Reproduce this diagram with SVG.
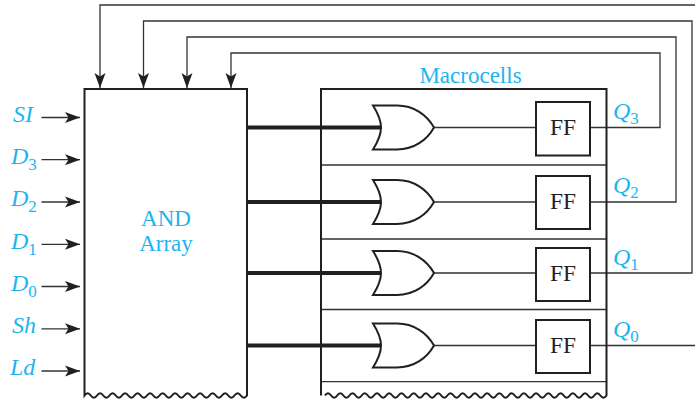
<svg xmlns="http://www.w3.org/2000/svg" width="695" height="400" viewBox="0 0 695 400">
<style>
.w{fill:none;stroke:#333;stroke-width:1.3}
.b{fill:none;stroke:#231f20;stroke-width:2}
.t{fill:none;stroke:#231f20;stroke-width:3.800}
.g{fill:#fff;stroke:#231f20;stroke-width:2;stroke-linejoin:miter}
.c{font-family:"Liberation Serif",serif;fill:#1cb5f0}
.l{font-size:24px;font-style:italic}
.s{font-size:17px;font-style:normal}
.h{font-size:23px;text-anchor:middle}
.k{font-family:"Liberation Serif",serif;fill:#231f20;font-size:23.500px;text-anchor:middle}
</style>
<defs>
<marker id="a" markerUnits="userSpaceOnUse" markerWidth="16" markerHeight="12" refX="15" refY="6" orient="auto"><path d="M0 0.500L15 6L0 11.500L3.500 6Z" fill="#231f20"/></marker>
<path id="or" d="M373 105.500H397C414 105.500 427 115 434 127.500C427 140 414 149.500 397 149.500H373C379 140 381 133 381 127.500C381 122 379 115 373 105.500Z" class="g"/>
</defs>
<g id="connectors">
<path class="w" d="M695 5H100V88" marker-end="url(#a)"/>
<path class="w" d="M590 273H692V21H143.500V88" marker-end="url(#a)"/>
<path class="w" d="M590 202H676V37H187V88" marker-end="url(#a)"/>
<path class="w" d="M590 127.500H660V53H231V88" marker-end="url(#a)"/>
<path class="w" d="M590 345.500H695"/>
<path class="w" d="M41.500 117.500H80" marker-end="url(#a)"/>
<path class="w" d="M41.500 159.700H80" marker-end="url(#a)"/>
<path class="w" d="M41.500 202H80" marker-end="url(#a)"/>
<path class="w" d="M41.500 244.300H80" marker-end="url(#a)"/>
<path class="w" d="M41.500 286.500H80" marker-end="url(#a)"/>
<path class="w" d="M41.500 328.800H80" marker-end="url(#a)"/>
<path class="w" d="M41.500 371H80" marker-end="url(#a)"/>
<path class="t" d="M247 127.500H381M247 202H381M247 273H381M247 345.500H381"/>
<path class="w" d="M434 127.500H536M434 202H536M434 273H536M434 345.500H536"/>
<path class="w" d="M321 165H606M321 239H606M321 309.500H606M321 381.700H606"/>
</g>
<g id="and-array">
<path class="b" d="M84.500 89H247V395.500q-3.100 4.500 -6.250 0t-6.250 0t-6.250 0t-6.250 0t-6.250 0t-6.250 0t-6.250 0t-6.250 0t-6.250 0t-6.250 0t-6.250 0t-6.250 0t-6.250 0t-6.250 0t-6.250 0t-6.250 0t-6.250 0t-6.250 0t-6.250 0t-6.250 0t-6.250 0t-6.250 0t-6.250 0t-6.250 0t-6.250 0t-6.250 0Z"/>
<text class="c h" x="166" y="226">AND</text>
<text class="c h" x="166" y="251">Array</text>
</g>
<g id="macrocells">
<path class="b" d="M321 395.500V89H606.500V395.500q-3 4.500 -6.120 0t-6.120 0t-6.120 0t-6.120 0t-6.120 0t-6.120 0t-6.120 0t-6.120 0t-6.120 0t-6.120 0t-6.120 0t-6.120 0t-6.120 0t-6.120 0t-6.120 0t-6.120 0t-6.120 0t-6.120 0t-6.120 0t-6.120 0t-6.120 0t-6.120 0t-6.120 0t-6.120 0t-6.120 0t-6.120 0t-6.120 0t-6.120 0t-6.120 0t-6.120 0t-6.120 0t-6.120 0t-6.120 0t-6.120 0t-6.120 0t-6.120 0t-6.120 0t-6.120 0t-6.120 0t-6.120 0t-6.120 0t-6.120 0t-6.120 0t-6.120 0t-6.120 0t-6.120 0"/>
<text class="c h" x="470.500" y="83">Macrocells</text>
</g>
<g id="or3"><use href="#or"/></g>
<g id="or2"><use href="#or" y="74.500"/></g>
<g id="or1"><use href="#or" y="145.500"/></g>
<g id="or0"><use href="#or" y="218"/></g>
<g id="ff3"><rect class="g" x="536" y="102" width="54" height="53.500"/><text class="k" x="563" y="135">FF</text></g>
<g id="ff2"><rect class="g" x="536" y="176" width="54" height="53"/><text class="k" x="563" y="209">FF</text></g>
<g id="ff1"><rect class="g" x="536" y="248" width="54" height="53"/><text class="k" x="563" y="281">FF</text></g>
<g id="ff0"><rect class="g" x="536" y="320" width="54" height="53"/><text class="k" x="563" y="353">FF</text></g>
<g id="inputs">
<text class="c l" x="13" y="122">SI</text>
<text class="c l" x="11" y="164">D<tspan class="s" dy="6">3</tspan></text>
<text class="c l" x="11" y="206">D<tspan class="s" dy="6">2</tspan></text>
<text class="c l" x="11" y="249">D<tspan class="s" dy="6">1</tspan></text>
<text class="c l" x="11" y="291">D<tspan class="s" dy="6">0</tspan></text>
<text class="c l" x="12" y="333">Sh</text>
<text class="c l" x="10" y="375">Ld</text>
</g>
<g id="outputs">
<text class="c l" x="613" y="119">Q<tspan class="s" dy="5">3</tspan></text>
<text class="c l" x="613" y="193">Q<tspan class="s" dy="5">2</tspan></text>
<text class="c l" x="613" y="265">Q<tspan class="s" dy="5">1</tspan></text>
<text class="c l" x="613" y="337">Q<tspan class="s" dy="5">0</tspan></text>
</g>
</svg>
